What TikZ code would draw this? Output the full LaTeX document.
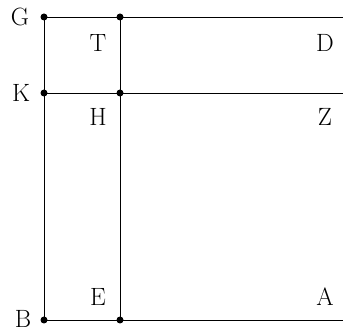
\documentclass[tikz,border=0pt]{standalone}
\usepackage{fontspec}
\setmainfont{Latin Modern Roman}
\begin{document}
\begin{tikzpicture}[x=1pt,y=-1pt,
  pt/.style={circle,fill=black,inner sep=0pt,minimum size=7pt},
  lbl/.style={inner sep=0pt,font=\fontsize{25}{30}\selectfont},
  ln/.style={line width=0.9pt}]
\useasboundingbox (0,0) rectangle (343,331);
\coordinate (G) at (44,17);
\coordinate (Tp) at (120,17);
\coordinate (K) at (44,93);
\coordinate (Hp) at (120,93);
\coordinate (B) at (44,320);
\coordinate (Ep) at (120,320);
\coordinate (Re1) at (343,17);
\coordinate (Re2) at (343,93);
\coordinate (Re3) at (343,320);
\draw[ln] (G) -- (Re1);
\draw[ln] (K) -- (Re2);
\draw[ln] (B) -- (Re3);
\draw[ln] (G) -- (B);
\draw[ln] (Tp) -- (Ep);
\foreach \p in {G,Tp,K,Hp,B,Ep} \node[pt] at (\p) {};
\node[lbl] (lG) at (20,17) {G};
\node[lbl] (lK) at (21,93) {K};
\node[lbl] (lB) at (23,319) {B};
\node[lbl] (lT) at (98,43) {T};
\node[lbl] (lD) at (325,43) {D};
\node[lbl] (lH) at (98,117) {H};
\node[lbl] (lZ) at (325,117) {Z};
\node[lbl] (lE) at (98,297) {E};
\node[lbl] (lA) at (325,297) {A};
\end{tikzpicture}
\end{document}
